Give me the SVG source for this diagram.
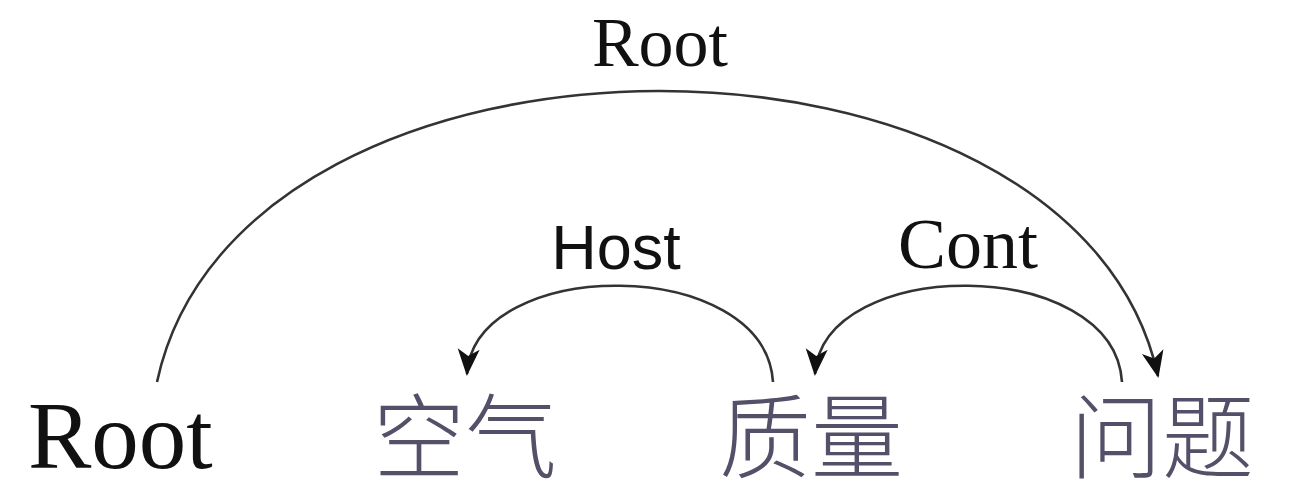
<svg xmlns="http://www.w3.org/2000/svg" width="1306" height="484" viewBox="0 0 1306 484">
<style>
.serif{font-family:"Liberation Serif","Times New Roman",serif;fill:#111}
.sans{font-family:"Liberation Sans",Arial,sans-serif;fill:#111}
.cjk{font-family:"Noto Sans CJK SC","Noto Sans CJK JP",sans-serif;font-weight:300;fill:#54506a;font-size:92px}
.arc{fill:none;stroke:#333;stroke-width:2.6}
</style>
<defs>
<marker id="ah" markerUnits="userSpaceOnUse" markerWidth="34" markerHeight="30" viewBox="-30 -15 34 30" refX="0" refY="0" orient="auto">
<path d="M2,0 L-25,-11 L-18,0 L-25,11 Z" fill="#111"/>
</marker>
</defs>
<rect width="1306" height="484" fill="#fff"/>
<g id="connectors">
<path class="arc" d="M157,382 C240,-5 1075,-5 1158,376" marker-end="url(#ah)"/>
<path class="arc" d="M773,382 C765,255 475,255 467,374" marker-end="url(#ah)"/>
<path class="arc" d="M1122,382 C1114,255 823,255 815,374" marker-end="url(#ah)"/>
</g>
<g id="label-root"><text class="serif" x="660" y="66" font-size="70" text-anchor="middle">Root</text></g>
<g id="label-host"><text class="sans" x="616" y="269" font-size="63" text-anchor="middle">Host</text></g>
<g id="label-cont"><text class="serif" x="968" y="268" font-size="72" text-anchor="middle">Cont</text></g>
<g id="node-root"><text class="serif" x="28" y="468" font-size="95">Root</text></g>
<g id="node-kongqi"><text class="cjk" x="465" y="471" text-anchor="middle">空气</text></g>
<g id="node-zhiliang"><text class="cjk" x="811" y="471" text-anchor="middle">质量</text></g>
<g id="node-wenti"><text class="cjk" x="1162" y="471" text-anchor="middle">问题</text></g>
</svg>
